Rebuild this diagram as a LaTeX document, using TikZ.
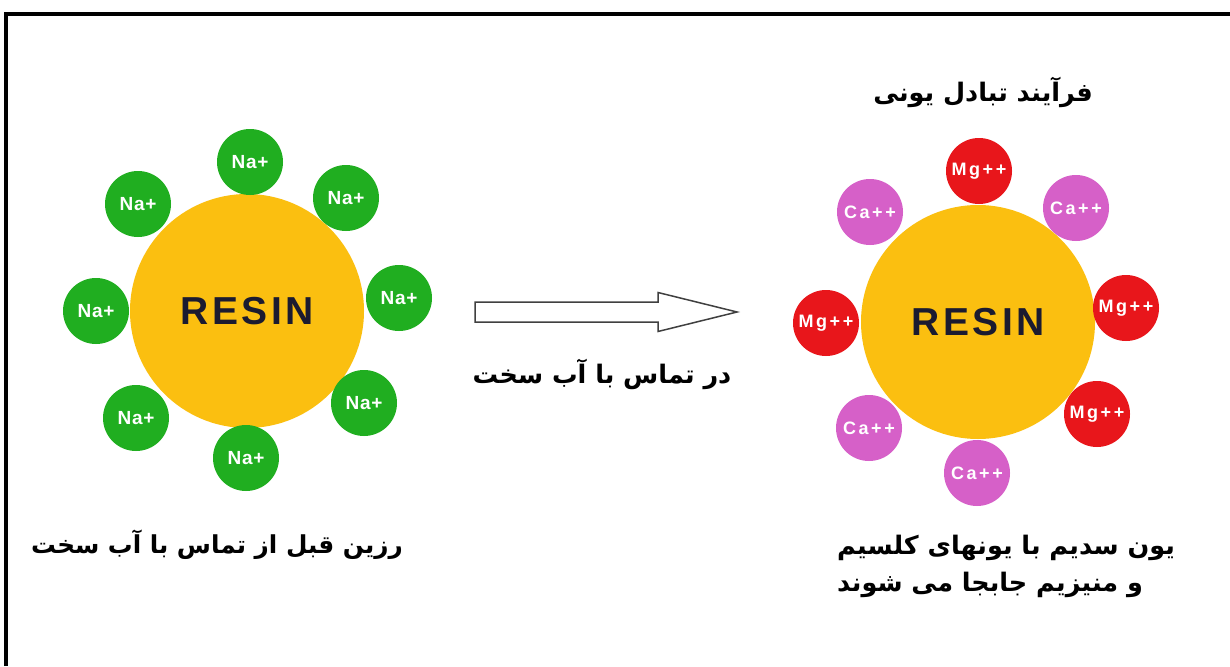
\documentclass[tikz,border=0pt]{standalone}
\usepackage{fontspec}
\usetikzlibrary{calc}
\setmainfont{Liberation Sans}
\newfontfamily\fa[Script=Arabic]{DejaVu Sans}
\newfontfamily\ionf[LetterSpace=4]{Liberation Sans}
\newfontfamily\ionwf[LetterSpace=14]{Liberation Sans}
\newfontfamily\resinf[LetterSpace=9]{Liberation Sans}
\TeXXeTstate=1
\definecolor{resinc}{HTML}{FBBF10}
\definecolor{resintxt}{HTML}{1B1B30}
\definecolor{nac}{HTML}{20AE20}
\definecolor{mgc}{HTML}{E8161B}
\definecolor{cac}{HTML}{D660C8}
\definecolor{arrowc}{HTML}{404040}
\begin{document}
\begin{tikzpicture}[x=1pt,y=-1pt,
  resinball/.style={circle, fill=resinc, minimum size=234pt, inner sep=0pt, text=resintxt,
    font=\resinf\bfseries\fontsize{39}{39}\selectfont},
  ionball/.style={circle, minimum size=66pt, inner sep=0pt, text=white,
    font=\ionf\bfseries\fontsize{19}{19}\selectfont},
  naion/.style={ionball, fill=nac},
  mgion/.style={ionball, fill=mgc, font=\ionwf\bfseries\fontsize{18}{18}\selectfont},
  caion/.style={ionball, fill=cac, font=\ionwf\bfseries\fontsize{18}{18}\selectfont},
  fatext/.style={inner sep=0pt, text=black, font=\fa\bfseries\fontsize{25.5}{37}\selectfont},
  frame/.style={line width=4pt, black},
  blockarrow/.style={draw=arrowc, fill=white, line width=1.5pt, line join=miter}]
\useasboundingbox (0,0) rectangle (1230,666);
\fill[white] (0,0) rectangle (1230,666);
\draw[frame] (6,666) -- (6,14) -- (1230,14);

% left resin
\node[resinball] (resinL) at (247,311) {RESIN};
\node[naion] (na1) at (250,162) {Na+};
\node[naion] (na2) at (346,198) {Na+};
\node[naion] (na3) at (399,298) {Na+};
\node[naion] (na4) at (364,403) {Na+};
\node[naion] (na5) at (246,458) {Na+};
\node[naion] (na6) at (136,418) {Na+};
\node[naion] (na7) at (96,311) {Na+};
\node[naion] (na8) at (138,204) {Na+};

% right resin
\node[resinball] (resinR) at (978,322) {RESIN};
\node[mgion] (mg1) at (979,171) {Mg++};
\node[caion] (ca1) at (1076,208) {Ca++};
\node[mgion] (mg2) at (1126,308) {Mg++};
\node[mgion] (mg3) at (1097,414) {Mg++};
\node[caion] (ca2) at (977,473) {Ca++};
\node[caion] (ca3) at (869,428) {Ca++};
\node[mgion] (mg4) at (826,323) {Mg++};
\node[caion] (ca4) at (870,212) {Ca++};

% block arrow
\coordinate (atail) at (475,312);
\coordinate (atip) at (737,312);
\draw[blockarrow] ($(atail)+(0,-10)$) -- ($(atip)+(-79,-10)$) -- ($(atip)+(-79,-19.5)$)
  -- (atip) -- ($(atip)+(-79,19.5)$) -- ($(atip)+(-79,10)$) -- ($(atail)+(0,10)$) -- cycle;

% texts
\node[fatext] (lblarrow) at (602,374) {\beginR در تماس با آب سخت\endR};
\node[fatext] (title) at (983,92) {\beginR فرآیند تبادل یونی\endR};
\node[fatext, font=\fa\bfseries\fontsize{24.7}{37}\selectfont] (lblL) at (217,545) {\beginR رزین قبل از تماس با آب سخت\endR};
\node[fatext, align=left, anchor=west] (lblR) at (837,566)
  {\beginR یون سدیم با یونهای کلسیم\endR\\ \beginR و منیزیم جابجا می شوند\endR};
\end{tikzpicture}
\end{document}
